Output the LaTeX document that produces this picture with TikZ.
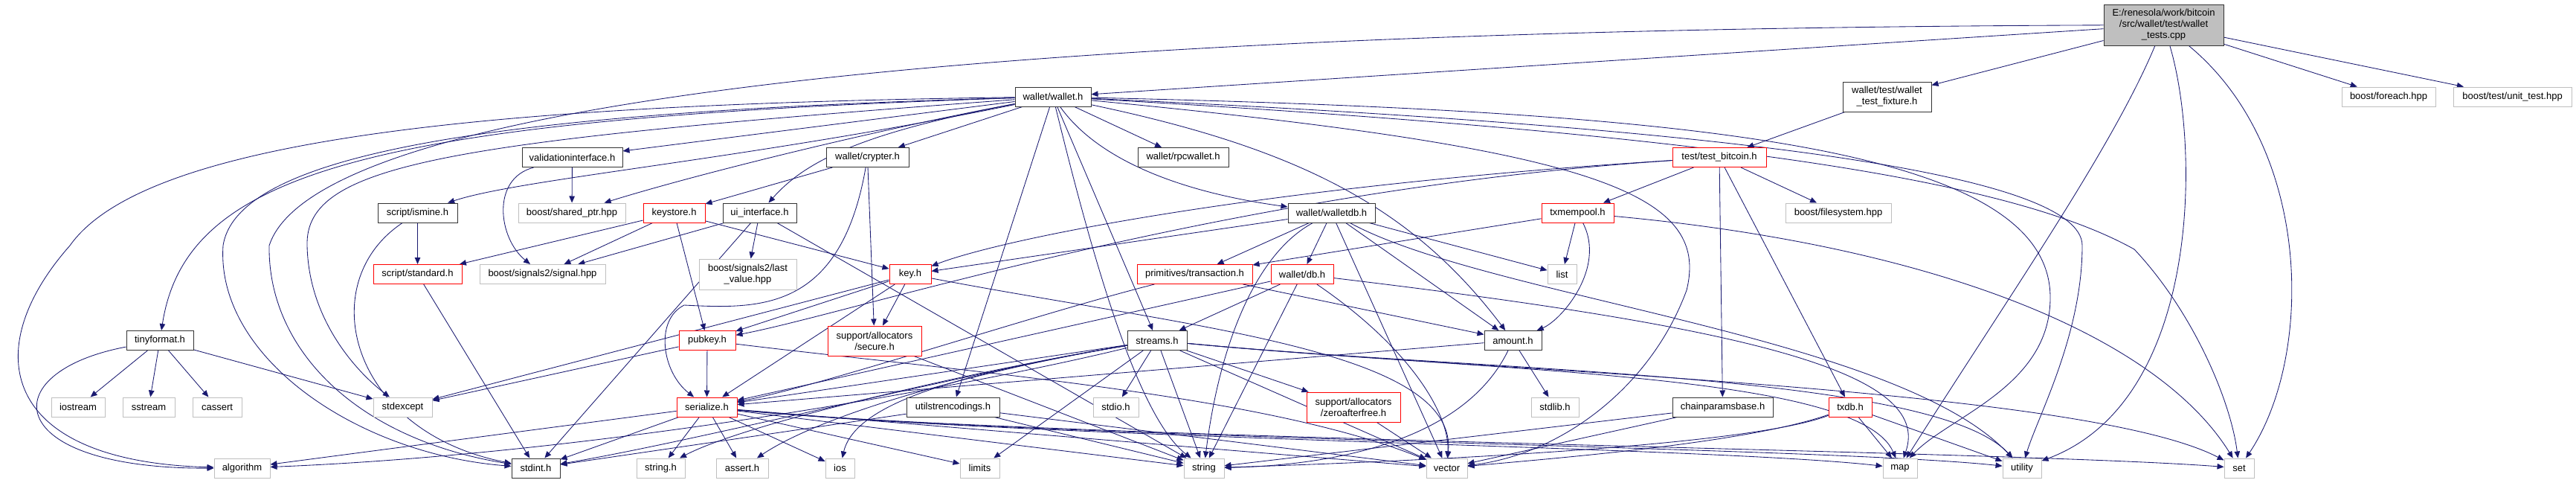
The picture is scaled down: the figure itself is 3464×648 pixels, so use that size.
\documentclass[tikz,border=0pt]{standalone}
\usepackage{fontspec}
\setmainfont{Liberation Sans}
\usetikzlibrary{arrows.meta}
\definecolor{edgec}{HTML}{191970}
\definecolor{redc}{HTML}{FF0000}
\definecolor{grayc}{HTML}{BFBFBF}
\definecolor{blkc}{HTML}{333333}
\pgfdeclarelayer{bg}
\pgfsetlayers{bg,main}
\begin{document}
\begin{tikzpicture}[x=1pt,y=-1pt,
  nb/.style={draw, line width=1pt, inner sep=0pt, fill=white, align=center,
    font=\fontsize{13pt}{15pt}\selectfont, minimum height=26pt},
  blkbox/.style={nb, draw=blkc},
  redbox/.style={nb, draw=redc},
  graybox/.style={nb, draw=grayc},
  rootbox/.style={nb, draw=blkc, fill=grayc},
  e/.style={draw=edgec, line width=0.85pt, -{Triangle[length=9pt,width=7.5pt]}}
]
\useasboundingbox (0,0) rectangle (3464,648);
% ---------------- nodes ----------------
\node[rootbox, minimum width=161pt, minimum height=55pt] (R) at (2909.5,33.5) {E:/renesola/work/bitcoin\\/src/wallet/test/wallet\\\_tests.cpp};
\node[blkbox, minimum width=102pt] (W) at (1416,130) {wallet/wallet.h};
\node[blkbox, minimum width=119pt, minimum height=40pt] (FX) at (2537.5,130) {wallet/test/wallet\\\_test\_fixture.h};
\node[graybox, minimum width=126pt] (FE) at (3212,130) {boost/foreach.hpp};
\node[graybox, minimum width=159pt] (UT) at (3378.5,130) {boost/test/unit\_test.hpp};
\node[blkbox, minimum width=135pt] (VI) at (769.5,211.5) {validationinterface.h};
\node[blkbox, minimum width=111pt] (CR) at (1166.5,211.5) {wallet/crypter.h};
\node[blkbox, minimum width=122pt] (RPC) at (1591,211.5) {wallet/rpcwallet.h};
\node[redbox, minimum width=126pt] (TB) at (2312,211.5) {test/test\_bitcoin.h};
\node[blkbox, minimum width=107pt] (ISM) at (561.5,286) {script/ismine.h};
\node[graybox, minimum width=144pt] (SP) at (769,286) {boost/shared\_ptr.hpp};
\node[redbox, minimum width=83pt] (KS) at (906.5,286) {keystore.h};
\node[blkbox, minimum width=99pt] (UI) at (1021.5,286) {ui\_interface.h};
\node[blkbox, minimum width=117pt] (WDB) at (1790.5,286) {wallet/walletdb.h};
\node[redbox, minimum width=97pt] (TXM) at (2121.5,286) {txmempool.h};
\node[graybox, minimum width=142pt] (FS) at (2472,286) {boost/filesystem.hpp};
\node[redbox, minimum width=119pt] (STDH) at (561.5,368.5) {script/standard.h};
\node[graybox, minimum width=169pt] (SIG) at (729.5,368.5) {boost/signals2/signal.hpp};
\node[redbox, minimum width=56pt] (KEY) at (1224,368.5) {key.h};
\node[graybox, minimum width=131pt, minimum height=41pt] (LV) at (1005.5,368.5) {boost/signals2/last\\\_value.hpp};
\node[redbox, minimum width=155pt] (TX) at (1606.5,368.5) {primitives/transaction.h};
\node[redbox, minimum width=84pt] (DB) at (1751,368.5) {wallet/db.h};
\node[graybox, minimum width=39pt] (LIST) at (2100.5,368.5) {list};
\node[blkbox, minimum width=90pt] (TF) at (215,457.5) {tinyformat.h};
\node[redbox, minimum width=76pt] (PUB) at (951,457.5) {pubkey.h};
\node[redbox, minimum width=126pt, minimum height=40pt] (SEC) at (1176,458) {support/allocators\\/secure.h};
\node[blkbox, minimum width=80pt] (STR) at (1556,457.5) {streams.h};
\node[blkbox, minimum width=77pt] (AMT) at (2034.5,457.5) {amount.h};
\node[graybox, minimum width=72pt] (IOSTR) at (105,547) {iostream};
\node[graybox, minimum width=70pt] (SS) at (200,547) {sstream};
\node[graybox, minimum width=66pt] (CAS) at (292,547) {cassert};
\node[graybox, minimum width=79pt] (SE) at (541.5,547) {stdexcept};
\node[redbox, minimum width=81pt] (SER) at (950.5,547) {serialize.h};
\node[blkbox, minimum width=125pt] (USE) at (1281.5,547) {utilstrencodings.h};
\node[graybox, minimum width=61pt] (SIO) at (1500.5,547) {stdio.h};
\node[redbox, minimum width=126pt, minimum height=40pt] (ZAF) at (1820,547) {support/allocators\\/zeroafterfree.h};
\node[graybox, minimum width=64pt] (SLIB) at (2091,547) {stdlib.h};
\node[blkbox, minimum width=135pt] (CPB) at (2316.5,547) {chainparamsbase.h};
\node[redbox, minimum width=58pt] (TXDB) at (2488,547) {txdb.h};
\node[graybox, minimum width=75pt] (ALG) at (325.5,629) {algorithm};
\node[blkbox, minimum width=65pt] (SINT) at (720.5,629) {stdint.h};
\node[graybox, minimum width=65pt] (STRH) at (888.5,629) {string.h};
\node[graybox, minimum width=70pt] (ASS) at (998,629) {assert.h};
\node[graybox, minimum width=39pt] (IOS) at (1129.5,629) {ios};
\node[graybox, minimum width=53pt] (LIM) at (1317.5,629) {limits};
\node[graybox, minimum width=54pt] (STRG) at (1619,629) {string};
\node[graybox, minimum width=55pt] (VEC) at (1945.5,629) {vector};
\node[graybox, minimum width=46pt] (MAP) at (2555,629) {map};
\node[graybox, minimum width=52pt] (UTIL) at (2719,629) {utility};
\node[graybox, minimum width=40pt] (SET) at (3011,629) {set};
% ---------------- edges ----------------
\begin{pgfonlayer}{bg}
% root
\draw[e] (R) -- (W);
\draw[e] (R) -- (FX);
\draw[e] (R) -- (FE);
\draw[e] (R) -- (UT);
\draw[e] (R) .. controls (3111,200) and (3111,480) .. (SET);
\draw[e] (R) .. controls (2959,200) and (2959,540) .. (UTIL);
\draw[e] (R) .. controls (2840,200) and (2700,400) .. (MAP);
\draw[e] (R) .. controls (1200,40) and (420,150) .. (362,330) .. controls (360,470) and (480,590) .. (SINT);
% wallet.h
\draw[e] (W) .. controls (700,140) and (200,180) .. (94,330) .. controls (-30,470) and (0,620) .. (ALG);
\draw[e] (W) .. controls (500,160) and (250,230) .. (TF);
\draw[e] (W) .. controls (600,190) and (410,220) .. (413,330) .. controls (415,430) and (480,500) .. (SE);
\draw[e] (W) .. controls (700,150) and (320,200) .. (300,330) .. controls (290,480) and (480,610) .. (SINT);
\draw[e] (W) .. controls (1000,215) and (700,240) .. (ISM);
\draw[e] (W) -- (VI);
\draw[e] (W) .. controls (1200,170) and (950,230) .. (SP);
\draw[e] (W) .. controls (1150,180) and (1080,220) .. (UI);
\draw[e] (W) -- (CR);
\draw[e] (W) -- (RPC);
\draw[e] (W) .. controls (1480,220) and (1600,260) .. (WDB);
\draw[e] (W) -- (STR);
\draw[e] (W) -- (USE);
\draw[e] (W) .. controls (1750,200) and (1900,280) .. (AMT);
\draw[e] (W) .. controls (1470,350) and (1530,560) .. (STRG);
\draw[e] (W) .. controls (2150,200) and (2300,260) .. (2268,390) .. controls (2220,520) and (2100,610) .. (VEC);
\draw[e] (W) .. controls (2300,150) and (2757,200) .. (2757,400) .. controls (2757,520) and (2620,560) .. (MAP);
\draw[e] (W) .. controls (2300,170) and (2800,230) .. (2800,330) .. controls (2800,450) and (2740,560) .. (UTIL);
\draw[e] (W) .. controls (2300,180) and (2700,240) .. (2870,335) .. controls (2950,420) and (3000,540) .. (SET);
% fixture and test_bitcoin
\draw[e] (FX) -- (TB);
\draw[e] (TB) -- (FS);
\draw[e] (TB) -- (TXM);
\draw[e] (TB) -- (CPB);
\draw[e] (TB) -- (TXDB);
\draw[e] (TB) .. controls (1700,250) and (1350,320) .. (KEY);
\draw[e] (TB) .. controls (1650,255) and (1150,420) .. (PUB);
% txmempool
\draw[e] (TXM) -- (LIST);
\draw[e] (TXM) .. controls (2160,360) and (2100,430) .. (AMT);
\draw[e] (TXM) -- (TX);
\draw[e] (TXM) .. controls (2600,330) and (2900,450) .. (SET);
% walletdb
\draw[e] (WDB) -- (KEY);
\draw[e] (WDB) -- (TX);
\draw[e] (WDB) -- (DB);
\draw[e] (WDB) -- (AMT);
\draw[e] (WDB) -- (LIST);
\draw[e] (WDB) .. controls (1690,340) and (1640,460) .. (STRG);
\draw[e] (WDB) -- (VEC);
\draw[e] (WDB) .. controls (2000,400) and (2550,450) .. (UTIL);
% db.h
\draw[e] (DB) -- (STR);
\draw[e] (DB) -- (SER);
\draw[e] (DB) .. controls (2350,440) and (2600,500) .. (MAP);
\draw[e] (DB) -- (STRG);
\draw[e] (DB) .. controls (1900,470) and (1950,560) .. (VEC);
% crypter
\draw[e] (CR) -- (KS);
\draw[e] (CR) .. controls (1130,420) and (1020,415) .. (920,410) .. controls (880,430) and (890,500) .. (SER);
\draw[e] (CR) -- (SEC);
% keystore
\draw[e] (KS) -- (KEY);
\draw[e] (KS) -- (PUB);
\draw[e] (KS) -- (STDH);
\draw[e] (KS) -- (SIG);
% script
\draw[e] (ISM) -- (STDH);
\draw[e] (ISM) .. controls (420,380) and (470,580) .. (SINT);
\draw[e] (STDH) -- (SINT);
% ui / validation
\draw[e] (UI) -- (LV);
\draw[e] (UI) -- (SIG);
\draw[e] (UI) -- (SINT);
\draw[e] (UI) -- (STRG);
\draw[e] (VI) .. controls (660,240) and (670,320) .. (SIG);
\draw[e] (VI) -- (SP);
% key / pubkey
\draw[e] (KEY) -- (PUB);
\draw[e] (KEY) -- (SER);
\draw[e] (KEY) -- (SEC);
\draw[e] (KEY) -- (SE);
\draw[e] (KEY) .. controls (1600,440) and (1960,470) .. (VEC);
\draw[e] (PUB) -- (SER);
\draw[e] (PUB) -- (SE);
\draw[e] (PUB) .. controls (1300,500) and (1700,530) .. (VEC);
% serialize
\draw[e] (SER) -- (ALG);
\draw[e] (SER) -- (ASS);
\draw[e] (SER) -- (IOS);
\draw[e] (SER) -- (LIM);
\draw[e] (SER) -- (SINT);
\draw[e] (SER) -- (STRG);
\draw[e] (SER) -- (STRH);
\draw[e] (SER) -- (VEC);
\draw[e] (SER) .. controls (1400,590) and (2300,600) .. (MAP);
\draw[e] (SER) .. controls (1400,590) and (2450,600) .. (UTIL);
\draw[e] (SER) .. controls (1400,590) and (2700,605) .. (SET);
% streams
\draw[e] (STR) -- (ZAF);
\draw[e] (STR) -- (SER);
\draw[e] (STR) -- (SIO);
\draw[e] (STR) -- (STRG);
\draw[e] (STR) -- (VEC);
\draw[e] (STR) -- (LIM);
\draw[e] (STR) .. controls (1300,500) and (1150,540) .. (IOS);
\draw[e] (STR) .. controls (1300,500) and (1100,560) .. (ASS);
\draw[e] (STR) .. controls (1300,500) and (1000,570) .. (STRH);
\draw[e] (STR) .. controls (1300,500) and (950,590) .. (SINT);
\draw[e] (STR) .. controls (1300,520) and (800,610) .. (ALG);
\draw[e] (STR) .. controls (2000,500) and (2500,500) .. (MAP);
\draw[e] (STR) .. controls (2000,500) and (2600,500) .. (UTIL);
\draw[e] (STR) .. controls (2000,500) and (2800,520) .. (SET);
% amount, tx, misc
\draw[e] (AMT) -- (SER);
\draw[e] (AMT) -- (SLIB);
\draw[e] (AMT) .. controls (1970,590) and (1800,625) .. (STRG);
\draw[e] (TX) -- (AMT);
\draw[e] (TX) .. controls (1400,420) and (1100,520) .. (SER);
\draw[e] (USE) -- (SINT);
\draw[e] (USE) -- (STRG);
\draw[e] (USE) -- (VEC);
\draw[e] (SEC) -- (STRG);
\draw[e] (ZAF) -- (VEC);
% tinyformat
\draw[e] (TF) -- (IOSTR);
\draw[e] (TF) -- (SS);
\draw[e] (TF) -- (CAS);
\draw[e] (TF) -- (SE);
\draw[e] (TF) .. controls (-10,500) and (0,630) .. (ALG);
% txdb, chainparamsbase
\draw[e] (TXDB) -- (MAP);
\draw[e] (TXDB) -- (UTIL);
\draw[e] (TXDB) .. controls (2350,600) and (1900,620) .. (STRG);
\draw[e] (TXDB) .. controls (2350,595) and (2100,615) .. (VEC);
\draw[e] (CPB) -- (STRG);
\draw[e] (CPB) -- (VEC);
\end{pgfonlayer}
\end{tikzpicture}
\end{document}
